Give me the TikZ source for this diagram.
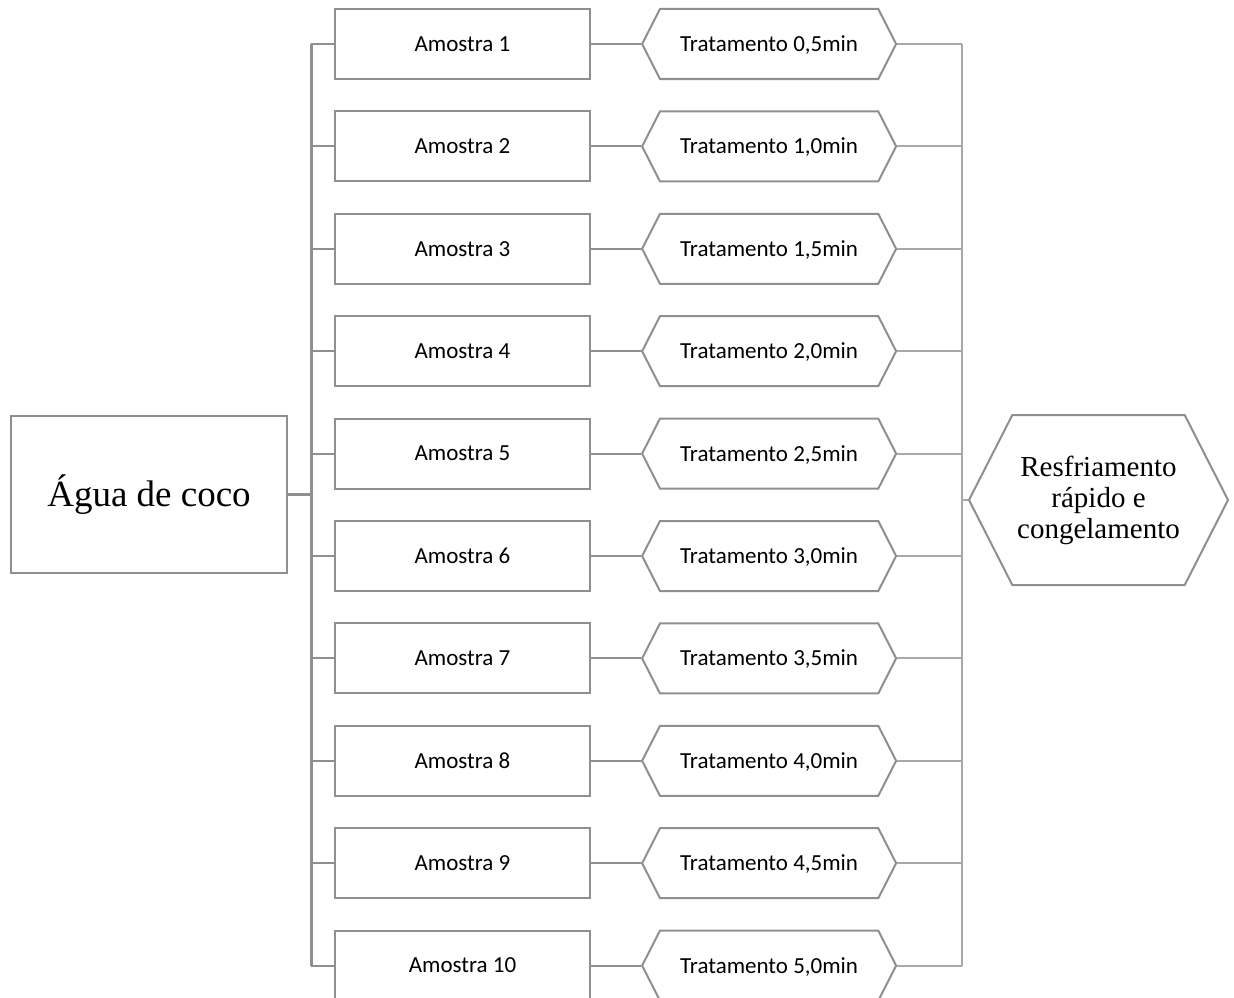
\documentclass[tikz,border=0pt]{standalone}
\usepackage{fontspec}
\setmainfont{Liberation Serif}
\newfontfamily\calibri{Carlito}
\usepackage{tikz}
\usetikzlibrary{positioning, shapes.symbols}
\usepackage{xcolor}
\definecolor{boxgray}{HTML}{8F8F8F}
\definecolor{linegray}{HTML}{A8A8A8}

\begin{document}
\begin{tikzpicture}[
        x=1pt, y=-1pt,
        node distance=30.4pt,
        sample/.style={
            rectangle,
            draw=boxgray,
            line width=2pt,
            minimum width=255pt,
            minimum height=70pt,
            inner sep=0pt,
            font=\calibri\fontsize{23}{28}\selectfont
        },
        treat/.style={
            signal,
            signal to=west and east,
            signal pointer angle=126,
            draw=boxgray,
            line width=2pt,
            minimum width=254pt,
            minimum height=70pt,
            inner sep=0pt,
            text height=20pt,
            text depth=5pt,
            font=\calibri\fontsize{23}{28}\selectfont
        },
        link/.style={
            draw=boxgray,
            line width=2pt
        },
        busline/.style={
            draw=boxgray,
            line width=3pt
        },
        outline/.style={
            draw=linegray,
            line width=2pt
        }
    ]
        \useasboundingbox (0,0) rectangle (1234,998);

        \node[sample, minimum width=276pt, minimum height=157pt,
              font=\fontsize{37}{44}\selectfont] (agua) at (149,494.5) {Água de coco};

        \node[sample] (a1) at (462.5,44) {Amostra 1};
        \node[sample, below=of a1] (a2) {Amostra 2};
        \node[sample, below=of a2] (a3) {Amostra 3};
        \node[sample, below=of a3] (a4) {Amostra 4};
        \node[sample, below=of a4] (a5) {Amostra 5};
        \node[sample, below=of a5] (a6) {Amostra 6};
        \node[sample, below=of a6] (a7) {Amostra 7};
        \node[sample, below=of a7] (a8) {Amostra 8};
        \node[sample, below=of a8] (a9) {Amostra 9};
        \node[sample, below=of a9] (a10) {Amostra 10};

        \node[treat, right=50pt of a1] (t1) {Tratamento 0,5min};
        \node[treat, right=50pt of a2] (t2) {Tratamento 1,0min};
        \node[treat, right=50pt of a3] (t3) {Tratamento 1,5min};
        \node[treat, right=50pt of a4] (t4) {Tratamento 2,0min};
        \node[treat, right=50pt of a5] (t5) {Tratamento 2,5min};
        \node[treat, right=50pt of a6] (t6) {Tratamento 3,0min};
        \node[treat, right=50pt of a7] (t7) {Tratamento 3,5min};
        \node[treat, right=50pt of a8] (t8) {Tratamento 4,0min};
        \node[treat, right=50pt of a9] (t9) {Tratamento 4,5min};
        \node[treat, right=50pt of a10] (t10) {Tratamento 5,0min};

        \node[treat, minimum width=259pt, minimum height=170pt,
              text height=, text depth=,
              font=\fontsize{29}{31}\selectfont, align=center] (cool) at (1098.5,500)
              {Resfriamento\\rápido e\\congelamento};

        \coordinate (lbus) at (311,0);
        \coordinate (rbus) at (962,0);

        % left bus
        \draw[busline] (a1.west -| lbus) -- (a10.west -| lbus);
        \draw[busline] (agua.east) -- (agua.east -| lbus);
        \draw[link] (a1.west -| lbus) -- (a1.west);
        \draw[link] (a2.west -| lbus) -- (a2.west);
        \draw[link] (a3.west -| lbus) -- (a3.west);
        \draw[link] (a4.west -| lbus) -- (a4.west);
        \draw[link] (a5.west -| lbus) -- (a5.west);
        \draw[link] (a6.west -| lbus) -- (a6.west);
        \draw[link] (a7.west -| lbus) -- (a7.west);
        \draw[link] (a8.west -| lbus) -- (a8.west);
        \draw[link] (a9.west -| lbus) -- (a9.west);
        \draw[link] (a10.west -| lbus) -- (a10.west);

        % samples to treatments
        \draw[link] (a1.east) -- (t1.west);
        \draw[link] (a2.east) -- (t2.west);
        \draw[link] (a3.east) -- (t3.west);
        \draw[link] (a4.east) -- (t4.west);
        \draw[link] (a5.east) -- (t5.west);
        \draw[link] (a6.east) -- (t6.west);
        \draw[link] (a7.east) -- (t7.west);
        \draw[link] (a8.east) -- (t8.west);
        \draw[link] (a9.east) -- (t9.west);
        \draw[link] (a10.east) -- (t10.west);

        % right bus
        \draw[outline] (t1.east -| rbus) -- (t10.east -| rbus);
        \draw[outline] (t1.east) -- (t1.east -| rbus);
        \draw[outline] (t2.east) -- (t2.east -| rbus);
        \draw[outline] (t3.east) -- (t3.east -| rbus);
        \draw[outline] (t4.east) -- (t4.east -| rbus);
        \draw[outline] (t5.east) -- (t5.east -| rbus);
        \draw[outline] (t6.east) -- (t6.east -| rbus);
        \draw[outline] (t7.east) -- (t7.east -| rbus);
        \draw[outline] (t8.east) -- (t8.east -| rbus);
        \draw[outline] (t9.east) -- (t9.east -| rbus);
        \draw[outline] (t10.east) -- (t10.east -| rbus);
        \draw[outline] (cool.west -| rbus) -- (cool.west);

    \end{tikzpicture}
\end{document}
